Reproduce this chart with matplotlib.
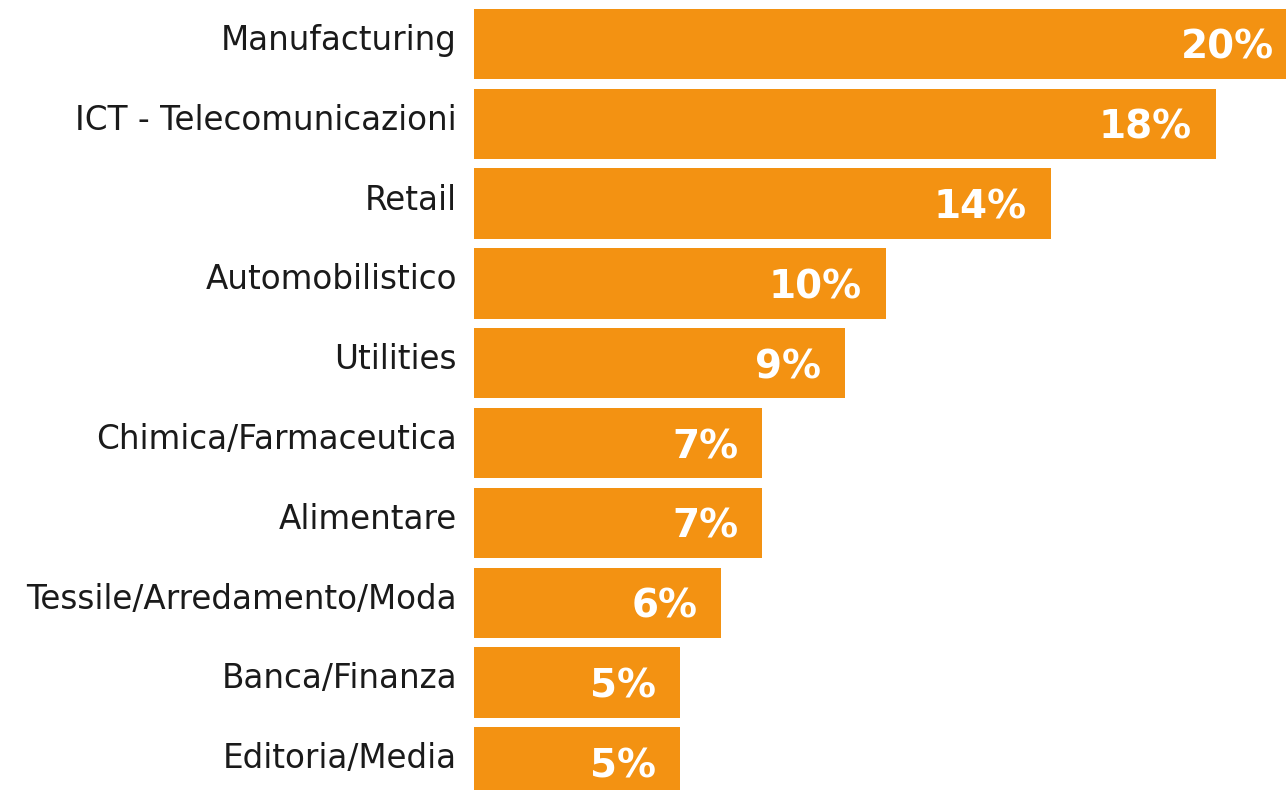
import matplotlib.pyplot as plt

# Sector shares (%)
sectors = [
    "Manufacturing",
    "ICT - Telecomunicazioni",
    "Retail",
    "Automobilistico",
    "Utilities",
    "Chimica/Farmaceutica",
    "Alimentare",
    "Tessile/Arredamento/Moda",
    "Banca/Finanza",
    "Editoria/Media",
]
shares = [20, 18, 14, 10, 9, 7, 7, 6, 5, 5]

bar_color = "#F39212"
text_color = "#1a1a1a"

fig = plt.figure(figsize=(12.86, 7.9), dpi=100)
ax = fig.add_axes([474 / 1286, 0, 812 / 1286, 1])

ypos = list(range(len(sectors)))
ax.barh(ypos, shares, height=0.88, color=bar_color)

ax.set_xlim(0, 19.71)
ax.set_ylim(9.348, -0.551)
ax.axis("off")

for i, (name, v) in enumerate(zip(sectors, shares)):
    # category name, right aligned just left of the bars
    ax.annotate(name, xy=(0, i), xycoords=("axes fraction", "data"),
                xytext=(-17, -6), textcoords="offset pixels",
                ha="right", va="baseline", fontsize=23.5,
                family="DejaVu Sans", color=text_color, annotation_clip=False)
    # value inside the end of the bar
    ax.annotate(f"{v}%", xy=(v, i), xytext=(-24, -15),
                textcoords="offset pixels", ha="right", va="baseline",
                fontsize=28, fontweight="bold", family="DejaVu Sans",
                color="white", annotation_clip=False)

fig.savefig("out.png", dpi=100)
